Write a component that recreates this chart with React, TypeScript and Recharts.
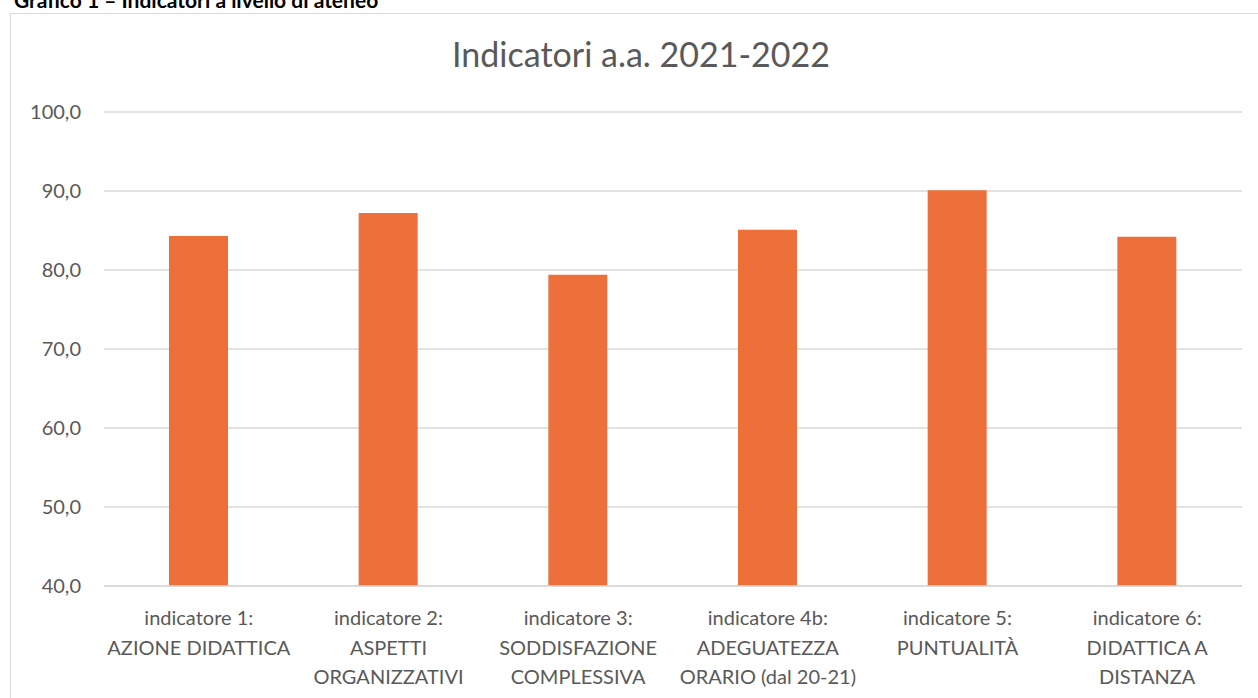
import React from "react";
import { BarChart, Bar, XAxis, YAxis, CartesianGrid } from "recharts";

// categories (line breaks as in the original labels)
const categories = [
  "indicatore 1:\nAZIONE DIDATTICA",
  "indicatore 2:\nASPETTI\nORGANIZZATIVI",
  "indicatore 3:\nSODDISFAZIONE\nCOMPLESSIVA",
  "indicatore 4b:\nADEGUATEZZA\nORARIO (dal 20-21)",
  "indicatore 5:\nPUNTUALITÀ",
  "indicatore 6:\nDIDATTICA A\nDISTANZA",
];

const values = [84.3, 87.2, 79.4, 85.1, 90.1, 84.2];

const yTicks = [40, 50, 60, 70, 80, 90, 100];

const data = categories.map((name, i) => ({ name, value: values[i] }));

const FONT = "Lato, 'Open Sans', sans-serif";
const TEXT = "#595959";

const CategoryTick = (props: any) => {
  const { x, y, payload } = props;
  const lines: string[] = String(payload.value).split("\n");
  return (
    <g transform={`translate(${x},${y})`}>
      <text textAnchor="middle" fill={TEXT} fontSize={20} fontFamily={FONT}>
        {lines.map((l, i) => (
          <tspan key={i} x={0} y={26 + i * 29.5} dominantBaseline="middle">
            {l}
          </tspan>
        ))}
      </text>
    </g>
  );
};

export default function App() {
  return (
    <div
      style={{
        position: "absolute",
        left: 0,
        top: 0,
        width: 1258,
        height: 698,
        overflow: "hidden",
        background: "#fff",
        fontFamily: FONT,
      }}
    >
      <div
        style={{
          position: "absolute",
          left: 14,
          top: -13,
          fontSize: 21,
          fontWeight: 700,
          color: "#000",
          whiteSpace: "nowrap",
        }}
      >
        Grafico 1 – Indicatori a livello di ateneo
      </div>
      <div
        style={{
          position: "absolute",
          left: 10,
          top: 13,
          width: 1260,
          height: 720,
          border: "1px solid #d9d9d9",
          boxSizing: "border-box",
        }}
      />
      <div
        style={{
          position: "absolute",
          left: 0,
          top: 33,
          width: 1282,
          textAlign: "center",
          fontSize: 34,
          color: TEXT,
          whiteSpace: "nowrap",
        }}
      >
        Indicatori a.a. 2021-2022
      </div>
      <div style={{ position: "absolute", left: 0, top: 0 }}>
        <BarChart
          width={1258}
          height={698}
          data={data}
          margin={{ top: 112, right: 16, bottom: 12, left: 0 }}
          barSize={59}
        >
          <CartesianGrid vertical={false} stroke="#d9d9d9" strokeWidth={1.3} />
          <XAxis
            dataKey="name"
            height={100}
            interval={0}
            axisLine={{ stroke: "#d9d9d9", strokeWidth: 1.5 }}
            tickLine={false}
            tick={<CategoryTick />}
          />
          <YAxis
            width={104}
            domain={[40, 100]}
            ticks={yTicks}
            allowDataOverflow
            axisLine={false}
            tickLine={false}
            tickSize={0}
            tickMargin={23}
            tick={{ fill: TEXT, fontSize: 20, fontFamily: FONT }}
            tickFormatter={(v: number) => v.toFixed(1).replace(".", ",")}
          />
          <Bar dataKey="value" fill="#ED6F3A" isAnimationActive={false} />
        </BarChart>
      </div>
    </div>
  );
}
